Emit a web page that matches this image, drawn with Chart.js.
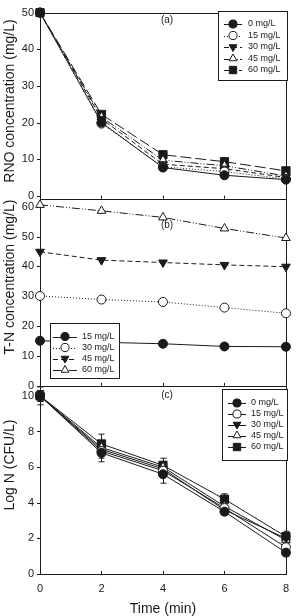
<!DOCTYPE html>
<html lang="en">
<head>
<meta charset="UTF-8" />
<title>RNO, T-N and Log N vs time</title>
<script src="https://cdn.jsdelivr.net/npm/chart.js@4.4.1/dist/chart.umd.min.js"></script>
<style>
  html, body { margin: 0; padding: 0; background: #fff; }
  #wrap { position: relative; width: 297px; height: 616px; }
</style>
</head>
<body>
<div id="wrap"><canvas id="chart"></canvas></div>
<script>
// shared x
const times = [0, 2, 4, 6, 8];
const timeTicks = [0, 2, 4, 6, 8];

// (a) RNO concentration (mg/L)
const rnoLabels = ["0 mg/L", "15 mg/L", "30 mg/L", "45 mg/L", "60 mg/L"];
const rno0 = [50, 20.0, 7.7, 5.6, 4.4];
const rno15 = [50, 19.7, 7.9, 6.6, 4.6];
const rno30 = [50, 21.0, 8.6, 7.4, 5.0];
const rno45 = [50, 21.5, 9.7, 8.2, 5.4];
const rno60 = [50, 22.2, 11.2, 9.3, 6.8];
const rnoTicks = [0, 10, 20, 30, 40, 50];

// (b) T-N concentration (mg/L)
const tnLabels = ["15 mg/L", "30 mg/L", "45 mg/L", "60 mg/L"];
const tn15 = [15.1, 14.6, 14.1, 13.2, 13.1];
const tn30 = [30.1, 28.9, 28.1, 26.2, 24.3];
const tn45 = [44.9, 42.1, 41.3, 40.5, 39.9];
const tn60 = [60.6, 58.6, 56.4, 52.7, 49.5];
const tnTicks = [0, 10, 20, 30, 40, 50, 60];

// (c) Log N (CFU/L), with +/- error
const logLabels = ["0 mg/L", "15 mg/L", "30 mg/L", "45 mg/L", "60 mg/L"];
const log0 = [10.0, 6.8, 5.6, 3.5, 1.2];
const log15 = [10.0, 6.9, 5.8, 3.7, 1.5];
const log30 = [10.0, 7.0, 5.9, 3.6, 2.0];
const log45 = [10.0, 7.1, 6.0, 3.8, 1.9];
const log60 = [10.0, 7.3, 6.1, 4.2, 2.1];
const log0Err = [0.5, 0.5, 0.5, 0.2, 0.2];
const log15Err = [0.3, 0.4, 0.3, 0.2, 0.2];
const log30Err = [0.3, 0.4, 0.3, 0.2, 0.2];
const log45Err = [0.3, 0.4, 0.3, 0.2, 0.3];
const log60Err = [0.3, 0.55, 0.4, 0.3, 0.3];
const logTicks = [0, 2, 4, 6, 8, 10];

const INK = "#1a1a1a";
const FONT = "'Liberation Sans', Arial, sans-serif";

// marker / line look, in legend order
const looks = [
  { pointStyle: "circle", radius: 4.5, rotation: 0, fill: INK, dash: [] },
  { pointStyle: "circle", radius: 4.5, rotation: 0, fill: "#fff", dash: [1, 2] },
  { pointStyle: "triangle", radius: 5, rotation: 180, fill: INK, dash: [5, 3] },
  { pointStyle: "triangle", radius: 5, rotation: 0, fill: "#fff", dash: [8, 2, 1, 2, 1, 2] },
  { pointStyle: "rect", radius: 5.8, rotation: 0, fill: INK, dash: [11, 4] }
];

function series(label, vals, look, axis, solid, err) {
  return {
    label: label,
    data: times.map((t, i) => ({ x: t, y: vals[i] })),
    yAxisID: axis,
    err: err,
    borderColor: INK,
    borderWidth: 1,
    borderDash: solid ? [] : look.dash,
    pointStyle: look.pointStyle,
    pointRotation: look.rotation,
    pointRadius: look.radius,
    pointBorderWidth: 1,
    pointBackgroundColor: look.fill,
    pointBorderColor: INK,
    tension: 0,
    clip: false,
    look: look,
    solid: solid
  };
}

const datasets = [
  series(rnoLabels[0], rno0, looks[0], "yA", false),
  series(rnoLabels[1], rno15, looks[1], "yA", false),
  series(rnoLabels[2], rno30, looks[2], "yA", false),
  series(rnoLabels[3], rno45, looks[3], "yA", false),
  series(rnoLabels[4], rno60, looks[4], "yA", false),
  series(tnLabels[0], tn15, looks[0], "yB", true),
  series(tnLabels[1], tn30, looks[1], "yB", false),
  series(tnLabels[2], tn45, looks[2], "yB", false),
  series(tnLabels[3], tn60, looks[3], "yB", false),
  series(logLabels[0], log0, looks[0], "yC", true, log0Err),
  series(logLabels[1], log15, looks[1], "yC", true, log15Err),
  series(logLabels[2], log30, looks[2], "yC", true, log30Err),
  series(logLabels[3], log45, looks[3], "yC", true, log45Err),
  series(logLabels[4], log60, looks[4], "yC", true, log60Err)
];

function yScale(min, max, weight, ticks) {
  return {
    type: "linear",
    position: "left",
    stack: "panels",
    stackWeight: weight,
    min: min,
    max: max,
    grid: { display: false, drawTicks: false },
    border: { display: false },
    afterBuildTicks: s => { s.ticks = ticks.map(v => ({ value: v })); },
    afterFit: s => { s.width = 40; },
    ticks: { autoSkip: false, padding: 6, color: INK, font: { family: FONT, size: 11 } }
  };
}

function stroke(ctx, x1, y1, x2, y2) {
  ctx.beginPath();
  ctx.moveTo(x1, y1);
  ctx.lineTo(x2, y2);
  ctx.stroke();
}

const panels = [
  { id: "yA", tag: "(a)", tagY: 20, title: "RNO concentration (mg/L)", titleY: 101,
    legend: { x: 218, y: 11, w: 69, h: 69, lx: 224, mx: 233, tx: 248, rows: [24, 35.5, 47, 58.5, 70] } },
  { id: "yB", tag: "(b)", tagY: 225, title: "T-N concentration (mg/L)", titleY: 277,
    legend: { x: 50, y: 323, w: 69, h: 55, lx: 53, mx: 65, tx: 82, rows: [336.5, 347.5, 358.5, 370] } },
  { id: "yC", tag: "(c)", tagY: 395, title: "Log N (CFU/L)", titleY: 465,
    legend: { x: 222, y: 389, w: 65, h: 71, lx: 228, mx: 237, tx: 251, rows: [403, 414, 424.5, 435.5, 447] } }
];

const decor = {
  id: "decor",
  beforeDatasetsDraw(chart) {
    const ctx = chart.ctx;
    const x = chart.scales.x;
    ctx.save();
    ctx.strokeStyle = INK;
    ctx.lineWidth = 1;
    panels.forEach(p => {
      const y = chart.scales[p.id];
      ctx.strokeRect(Math.round(x.left) + 0.5, Math.round(y.top) + 0.5,
        Math.round(x.right - x.left), Math.round(y.bottom - y.top));
      timeTicks.forEach(t => {
        const px = Math.round(x.getPixelForValue(t)) + 0.5;
        stroke(ctx, px, y.bottom, px, y.bottom - 3);
      });
      y.ticks.forEach(t => {
        const py = Math.round(y.getPixelForValue(t.value)) + 0.5;
        stroke(ctx, x.left - 3, py, x.left, py);
      });
    });
    // error bars for panel (c)
    chart.data.datasets.forEach(ds => {
      if (!ds.err) return;
      const y = chart.scales[ds.yAxisID];
      ds.data.forEach((d, i) => {
        const px = Math.round(x.getPixelForValue(d.x)) + 0.5;
        const hi = y.getPixelForValue(d.y + ds.err[i]);
        const lo = y.getPixelForValue(d.y - ds.err[i]);
        stroke(ctx, px, hi, px, lo);
        stroke(ctx, px - 3, hi, px + 3, hi);
        stroke(ctx, px - 3, lo, px + 3, lo);
      });
    });
    ctx.restore();
  },
  afterDraw(chart) {
    const ctx = chart.ctx;
    ctx.save();
    ctx.fillStyle = INK;
    panels.forEach(p => {
      // panel tag
      ctx.font = "10px " + FONT;
      ctx.textAlign = "center";
      ctx.textBaseline = "middle";
      ctx.fillText(p.tag, 167, p.tagY);
      // axis title
      ctx.save();
      ctx.translate(10, p.titleY);
      ctx.rotate(-Math.PI / 2);
      ctx.font = "14px " + FONT;
      ctx.fillText(p.title, 0, 0);
      ctx.restore();
      // legend
      const L = p.legend;
      const sets = chart.data.datasets.filter(d => d.yAxisID === p.id);
      ctx.fillStyle = "#fff";
      ctx.fillRect(L.x, L.y, L.w, L.h);
      ctx.strokeStyle = INK;
      ctx.lineWidth = 1;
      ctx.strokeRect(L.x + 0.5, L.y + 0.5, L.w, L.h);
      sets.forEach((ds, i) => {
        const ry = L.rows[i];
        ctx.setLineDash(ds.borderDash);
        stroke(ctx, L.lx, Math.round(ry) + 0.5, 2 * L.mx - L.lx, Math.round(ry) + 0.5);
        ctx.setLineDash([]);
        ctx.fillStyle = ds.look.fill;
        ctx.strokeStyle = INK;
        Chart.helpers.drawPoint(ctx, {
          pointStyle: ds.look.pointStyle,
          rotation: ds.look.rotation,
          radius: ds.look.radius * 0.9,
          borderWidth: 1
        }, L.mx, ry);
        ctx.fillStyle = INK;
        ctx.font = "9px " + FONT;
        ctx.textAlign = "left";
        ctx.fillText(ds.label, L.tx, ry);
      });
      ctx.fillStyle = INK;
    });
    ctx.restore();
  }
};

new Chart(document.getElementById("chart"), {
  type: "line",
  data: { datasets: datasets },
  plugins: [decor],
  options: {
    responsive: true,
    maintainAspectRatio: false,
    animation: false,
    layout: { padding: { top: 7, right: 6, bottom: 0, left: 0 } },
    plugins: { legend: { display: false }, tooltip: { enabled: false } },
    scales: {
      x: {
        type: "linear",
        min: 0,
        max: 8,
        grid: { display: false, drawTicks: false },
        border: { display: false },
        afterBuildTicks: s => { s.ticks = timeTicks.map(v => ({ value: v })); },
        afterFit: s => { s.height = 42; },
        ticks: { padding: 8, color: INK, font: { family: FONT, size: 11 } },
        title: {
          display: true,
          text: "Time (min)",
          color: INK,
          font: { family: FONT, size: 14, lineHeight: 1 },
          padding: { top: 0, bottom: 0 }
        }
      },
      yC: yScale(0, 10.56, 190, logTicks),
      yB: yScale(0, 62.65, 189, tnTicks),
      yA: yScale(-0.81, 50, 188, rnoTicks)
    }
  }
});
</script>
</body>
</html>
